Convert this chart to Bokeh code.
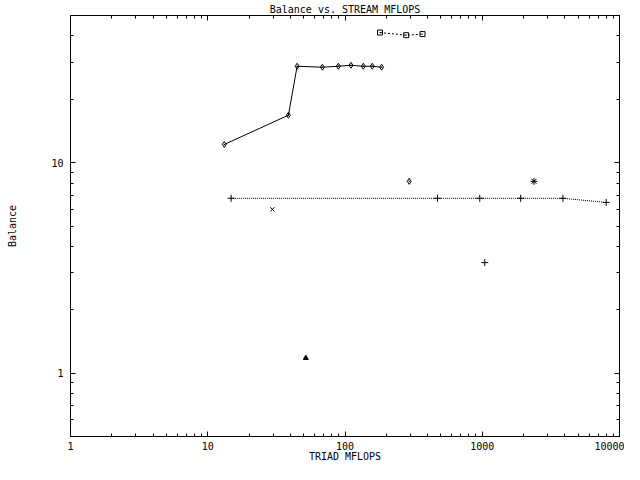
from bokeh.plotting import figure
from bokeh.models import Range1d, FixedTicker, PrintfTickFormatter, LogAxis, CustomJSTickFormatter
from bokeh.embed import file_html
from bokeh.resources import INLINE

# ---- data ----
s1_x = [13.2, 38.7, 44.8, 68.4, 89.4, 110.6, 135.9, 158.0, 184.9]
s1_y = [12.2, 16.8, 28.7, 28.4, 28.7, 29.0, 28.7, 28.7, 28.4]

s2_x = [179.8, 279.0, 367.0]
s2_y = [41.5, 40.3, 40.8]

s3_x = [14.8, 472.0, 959.0, 1905.0, 3870.0, 8000.0]
s3_y = [6.77, 6.77, 6.77, 6.77, 6.77, 6.47]

dia_x = [293.6]
dia_y = [8.15]
xm_x = [29.6]
xm_y = [6.0]
ast_x = [2381.0]
ast_y = [8.15]
plus_x = [1043.0]
plus_y = [3.35]
tri_x = [51.8]
tri_y = [1.18]

x_major = [1, 10, 100, 1000, 10000]
y_major = [1, 10]

title = "Balance vs. STREAM MFLOPS"
x_label = "TRIAD MFLOPS"
y_label = "Balance"

FONT = "DejaVu Sans Mono"
FS = "10px"

x_minor = [m * 10 ** e for e in range(0, 4) for m in range(2, 10)]
y_minor = [0.6, 0.7, 0.8, 0.9] + [m for m in range(2, 10)] + [20, 30, 40]

p = figure(width=624, height=464, x_axis_type="log", y_axis_type="log",
           x_range=Range1d(1, 10000), y_range=Range1d(0.5, 50),
           output_backend="svg", toolbar_location=None,
           min_border_left=70, min_border_right=5, min_border_top=10, min_border_bottom=0)

p.title.text = title
p.title.align = "center"
p.title.text_font = FONT
p.title.text_font_size = FS
p.title.text_font_style = "normal"
p.title.text_color = "black"
p.title.standoff = 2
p.title.offset = 0

p.outline_line_color = "black"
p.outline_line_width = 1
p.xgrid.visible = False
p.ygrid.visible = False
p.background_fill_color = "white"
p.border_fill_color = "white"

xt = FixedTicker(ticks=x_major, minor_ticks=x_minor)
yt = FixedTicker(ticks=y_major, minor_ticks=y_minor)

def style(ax, ticker, labels=True):
    ax.ticker = ticker
    ax.axis_line_color = "black"
    ax.major_tick_in = 5
    ax.major_tick_out = 0
    ax.minor_tick_in = 3
    ax.minor_tick_out = 0
    ax.major_tick_line_color = "black"
    ax.minor_tick_line_color = "black"
    ax.major_label_text_font = FONT
    ax.major_label_text_font_size = FS
    ax.major_label_text_color = "black"
    ax.axis_label_text_font = FONT
    ax.axis_label_text_font_size = FS
    ax.axis_label_text_font_style = "normal"
    ax.axis_label_text_color = "black"
    if labels:
        ax.formatter = PrintfTickFormatter(format="%d")
    else:
        ax.formatter = CustomJSTickFormatter(code="return ''")
        ax.major_label_text_font_size = "0px"
        ax.major_label_standoff = 0

style(p.xaxis[0], xt)
style(p.yaxis[0], yt)
p.xaxis[0].axis_label = x_label
p.yaxis[0].axis_label = y_label
p.xaxis[0].major_label_standoff = 5
p.xaxis[0].axis_label_standoff = -2
p.yaxis[0].major_label_standoff = 7
p.yaxis[0].axis_label_standoff = 30

top = LogAxis()
style(top, xt, labels=False)
p.add_layout(top, "above")
right = LogAxis()
style(right, yt, labels=False)
p.add_layout(right, "right")

# series 1: solid line + diamonds
p.line(s1_x, s1_y, line_color="black", line_width=1)
p.scatter(s1_x, s1_y, marker="diamond_dot", size=6, fill_color=None, line_color="black", line_width=1)

# series 2: dashed + squares
p.line(s2_x, s2_y, line_color="black", line_width=1, line_dash="2 2")
p.scatter(s2_x, s2_y, marker="square_dot", size=5, fill_color=None, line_color="black", line_width=1)

# series 3: dotted + plus
p.line(s3_x, s3_y, line_color="black", line_width=1, line_dash="1 1")
p.scatter(s3_x, s3_y, marker="cross", size=7, line_color="black", line_width=1)

p.scatter(dia_x, dia_y, marker="diamond_dot", size=6, fill_color=None, line_color="black", line_width=1)
p.scatter(xm_x, xm_y, marker="x", size=6, line_color="black", line_width=1)
p.scatter(ast_x, ast_y, marker="asterisk", size=7, line_color="black", line_width=1)
p.scatter(plus_x, plus_y, marker="cross", size=7, line_color="black", line_width=1)
p.scatter(tri_x, tri_y, marker="triangle", size=5, fill_color="black", line_color="black", line_width=1)

open("out.html", "w").write(file_html(p, INLINE))
